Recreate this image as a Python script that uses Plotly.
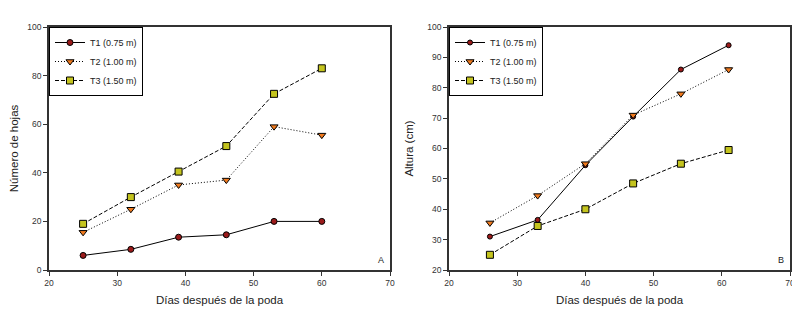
import plotly.graph_objects as go

# Panel A: Número de hojas
days_a = [25, 32, 39, 46, 53, 60]
hojas_t1 = [6, 8.5, 13.5, 14.5, 20, 20]
hojas_t2 = [15.5, 25, 35, 37, 59, 55.5]
hojas_t3 = [19, 30, 40.5, 51, 72.5, 83]

# Panel B: Altura (cm)
days_b = [26, 33, 40, 47, 54, 61]
altura_t1 = [31, 36.5, 54.5, 70.5, 86, 94]
altura_t2 = [35.5, 44.5, 55, 71, 78, 86]
altura_t3 = [25, 34.5, 40, 48.5, 55, 59.5]

names = ["T1 (0.75 m)", "T2 (1.00 m)", "T3 (1.50 m)"]
colors = ["#9B1B1B", "#F07A1E", "#C4C41E"]
symbols = ["circle", "triangle-down", "square"]
dashes = ["solid", "1px,2px", "4px,2px"]

W, H = 792, 310  # page body has an 8px default margin

fig = go.Figure()

def add_series(x, ys, xa, ya, legend, msizes):
    for i, y in enumerate(ys):
        fig.add_trace(go.Scatter(
            x=x, y=y, mode="lines+markers", name=names[i],
            xaxis=xa, yaxis=ya, legend=legend,
            line=dict(color="black", width=1, dash=dashes[i]),
            marker=dict(symbol=symbols[i], size=msizes[i], color=colors[i],
                        line=dict(color="black", width=1)),
        ))

add_series(days_a, [hojas_t1, hojas_t2, hojas_t3], "x", "y", "legend", [6, 7, 7])
add_series(days_b, [altura_t1, altura_t2, altura_t3], "x2", "y2", "legend2", [5, 7, 7])

top, bot = 19, 262
ydom = [(H - bot) / H, (H - top) / H]
axcommon = dict(showgrid=False, zeroline=False, showline=True, linecolor="#333333",
                linewidth=1.5, mirror=True, ticks="outside", ticklen=4,
                tickcolor="#333333", automargin=False,
                tickfont=dict(size=8.5, color="#333333",
                family="Liberation Sans, Arial, sans-serif"))

fig.update_layout(
    width=W, height=H,
    margin=dict(l=0, r=0, t=0, b=0, autoexpand=False),
    paper_bgcolor="white", plot_bgcolor="white",
    font=dict(family="Liberation Sans, Arial, sans-serif", color="#222222"),
    xaxis=dict(domain=[41/W, 382/W], range=[20, 70], dtick=10, anchor="y",
               title=dict(text="Días después de la poda", font=dict(size=11.5), standoff=9), **axcommon),
    yaxis=dict(domain=ydom, range=[0, 100], dtick=20, anchor="x",
               title=dict(text="Número de hojas", font=dict(size=11.5), standoff=10), **axcommon),
    xaxis2=dict(domain=[441/W, 782/W], range=[20, 70], dtick=10, anchor="y2",
                title=dict(text="Días después de la poda", font=dict(size=11.5), standoff=9), **axcommon),
    yaxis2=dict(domain=ydom, range=[20, 100], dtick=10, anchor="x2",
                title=dict(text="Altura (cm)", font=dict(size=11.5), standoff=11), **axcommon),
    legend=dict(x=41/W, y=(H - top)/H, xanchor="left", yanchor="top",
                bordercolor="black", borderwidth=1, bgcolor="white",
                font=dict(size=9), tracegroupgap=0, itemwidth=30),
    legend2=dict(x=441/W, y=(H - top)/H, xanchor="left", yanchor="top",
                 bordercolor="black", borderwidth=1, bgcolor="white",
                 font=dict(size=9), tracegroupgap=0, itemwidth=30),
    annotations=[
        dict(text="A", x=378/W, y=(H - bot + 3)/H, xref="paper", yref="paper",
             xanchor="right", yanchor="bottom", showarrow=False, font=dict(size=9, color="#222")),
        dict(text="B", x=778/W, y=(H - bot + 3)/H, xref="paper", yref="paper",
             xanchor="right", yanchor="bottom", showarrow=False, font=dict(size=9, color="#222")),
    ],
)

fig.write_html("out.html")
